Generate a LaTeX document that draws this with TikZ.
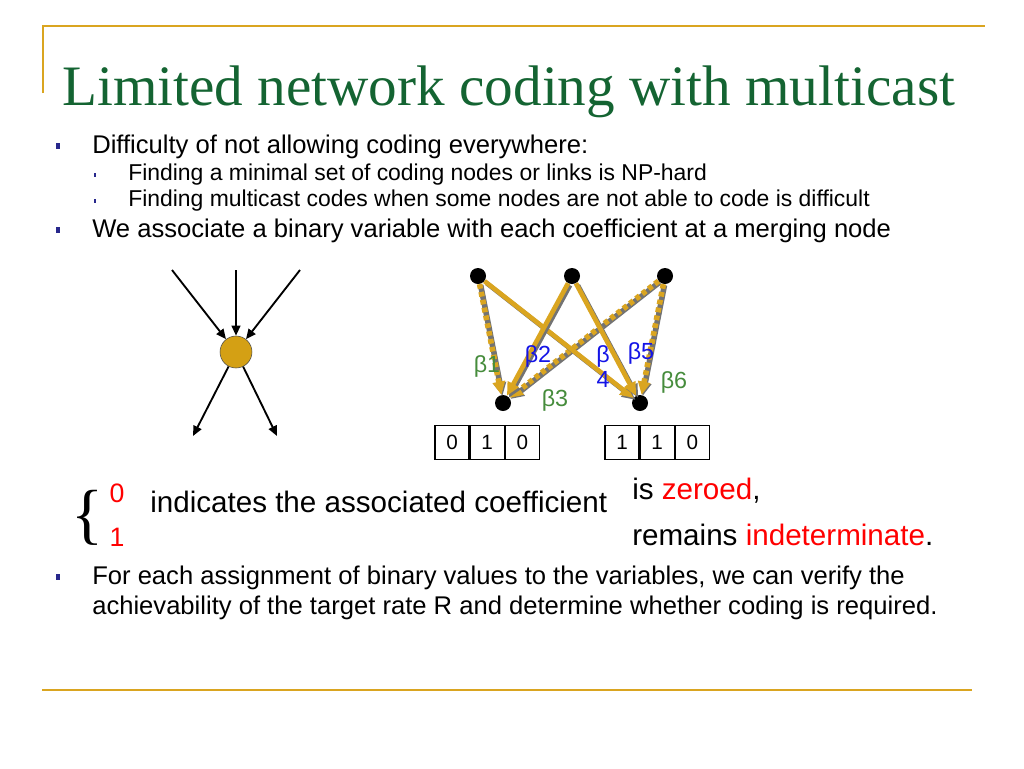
\documentclass[tikz,border=0pt]{standalone}
\usepackage{fontspec}
\setmainfont{Liberation Sans}
\newfontfamily\titlefont{Liberation Serif}
\usetikzlibrary{arrows.meta,positioning}
\definecolor{slidegold}{RGB}{218,165,32}
\definecolor{titlegreen}{RGB}{20,100,50}
\definecolor{bulletblue}{RGB}{40,40,140}
\definecolor{betagreen}{RGB}{70,140,60}
\definecolor{betablue}{RGB}{20,20,230}
\definecolor{edgegray}{RGB}{115,115,115}
\definecolor{mergefill}{RGB}{212,160,20}

\begin{document}
\begin{tikzpicture}[x=0.75pt,y=-0.75pt,
	bodytext/.style={anchor=base west,inner sep=0pt,font=\fontsize{19.2}{23}\selectfont},
	subtext/.style={anchor=base west,inner sep=0pt,font=\fontsize{17.2}{20}\selectfont},
	bigtext/.style={anchor=base west,inner sep=0pt,font=\fontsize{22.2}{26}\selectfont},
	mainbullet/.style={fill=bulletblue,inner sep=0pt,minimum width=3pt,minimum height=4.5pt},
	subbullet/.style={fill=bulletblue,inner sep=0pt,minimum width=2.2pt,minimum height=3.5pt},
	blackarrow/.style={-{Triangle[length=7.5pt,width=6.5pt]},line width=1.4pt},
	mergenode/.style={circle,draw=black!70,fill=mergefill,inner sep=0pt,minimum size=24pt},
	dot/.style={circle,fill=black,inner sep=0pt,minimum size=12pt},
	shadowline/.style={draw=edgegray,line width=3.5pt,-{Triangle[length=10pt,width=9pt]},
		transform canvas={shift={(1.5pt,-1.5pt)}}},
	goldline/.style={draw=slidegold,line width=3.5pt,-{Triangle[length=10pt,width=9pt]}},
	dottedbase/.style={draw=edgegray,line width=4.2pt,-{Triangle[length=10pt,width=9pt]},
		transform canvas={shift={(0.8pt,-0.8pt)}}},
	dottedline/.style={draw=slidegold,line width=4.2pt,dash pattern=on 3.5pt off 2.5pt,
		-{Triangle[length=10pt,width=9pt]}},
	beta/.style={inner sep=0pt,font=\fontsize{17.5}{20}\selectfont},
	cell/.style={draw,line width=0.9pt,inner sep=0pt,minimum width=25.5pt,minimum height=26pt,
		font=\fontsize{15.5}{18}\selectfont}]
	\useasboundingbox (0,0) rectangle (1024,768);

	% frame lines
	\draw[slidegold,line width=1.5pt] (43,93) -- (43,26) -- (985,26);
	\draw[slidegold,line width=1.8pt] (42,690) -- (972,690);

	% title
	\node[anchor=base west,inner sep=0pt,text=titlegreen,font=\titlefont\fontsize{42.9}{52}\selectfont]
		(title) at (62,105) {Limited network coding with multicast};

	% bullets
	\node[mainbullet] (b1) at (58,146) {};
	\node[bodytext] (t1) at (92,153) {Difficulty of not allowing coding everywhere:};
	\node[subbullet] (b11) at (95,175) {};
	\node[subtext] (t11) at (128,180) {Finding a minimal set of coding nodes or links is NP-hard};
	\node[subbullet] (b12) at (95,201) {};
	\node[subtext] (t12) at (128,206) {Finding multicast codes when some nodes are not able to code is difficult};
	\node[mainbullet] (b2) at (58,230) {};
	\node[bodytext] (t2) at (92,237) {We associate a binary variable with each coefficient at a merging node};

	% merging node
	\node[mergenode] (merge) at (236,352) {};
	\coordinate (inL) at (172,270);
	\coordinate (inM) at (236,270);
	\coordinate (inR) at (300,270);
	\coordinate (outL) at (193,436);
	\coordinate (outR) at (277,436);
	\draw[blackarrow] (inL) -- (merge);
	\draw[blackarrow] (inM) -- (merge);
	\draw[blackarrow] (inR) -- (merge);
	\draw[blackarrow] (merge) -- (outL);
	\draw[blackarrow] (merge) -- (outR);

	% network
	\node[dot] (src1) at (478,276) {};
	\node[dot] (src2) at (572,276) {};
	\node[dot] (src3) at (665,276) {};
	\node[dot] (snk1) at (503,403) {};
	\node[dot] (snk2) at (640,403) {};

	\draw[dottedbase] (src1) -- (snk1);
	\draw[dottedline] (src1) -- (snk1);
	\draw[dottedbase] (src3) -- (snk1);
	\draw[dottedline] (src3) -- (snk1);
	\draw[dottedbase] (src3) -- (snk2);
	\draw[dottedline] (src3) -- (snk2);
	\draw[shadowline] (src1) -- (snk2);
	\draw[goldline] (src1) -- (snk2);
	\draw[shadowline] (src2) -- (snk1);
	\draw[goldline] (src2) -- (snk1);
	\draw[shadowline] (src2) -- (snk2);
	\draw[goldline] (src2) -- (snk2);

	\node[beta,text=betagreen] (beta1) at (487,366) {β1};
	\node[beta,text=betablue] (beta2) at (538,356) {β2};
	\node[beta,text=betagreen] (beta3) at (555,400) {β3};
	\node[beta,text=betablue] (beta4) at (603,356) {β};
	\node[beta,text=betablue,below=3pt of beta4] (beta4b) {4};
	\node[beta,text=betablue] (beta5) at (641,353) {β5};
	\node[beta,text=betagreen] (beta6) at (674,382) {β6};

	% bit vectors
	\node[cell] (bitA1) at (452,442.5) {0};
	\node[cell,right=0pt of bitA1] (bitA2) {1};
	\node[cell,right=0pt of bitA2] (bitA3) {0};
	\node[cell] (bitB1) at (622,442.5) {1};
	\node[cell,right=0pt of bitB1] (bitB2) {1};
	\node[cell,right=0pt of bitB2] (bitB3) {0};

	% meaning of bits
	\node[inner sep=0pt,font=\titlefont\fontsize{50}{50}\selectfont] (brace) at (87,518) {\{};
	\node[inner sep=0pt,text=red,font=\fontsize{20}{24}\selectfont] (zero) at (117,493) {0};
	\node[inner sep=0pt,text=red,font=\fontsize{20}{24}\selectfont] (one) at (117,537) {1};
	\node[bigtext] (indicates) at (150,512) {indicates the associated coefficient};
	\node[bigtext] (zeroed) at (632,499) {is \textcolor{red}{zeroed},};
	\node[bigtext] (remains) at (632,545) {remains \textcolor{red}{indeterminate}.};

	% last bullet
	\node[mainbullet] (b3) at (58,577) {};
	\node[bodytext] (t3) at (92,584) {For each assignment of binary values to the variables, we can verify the};
	\node[bodytext] (t3b) at (92,614) {achievability of the target rate R and determine whether coding is required.};
\end{tikzpicture}
\end{document}
